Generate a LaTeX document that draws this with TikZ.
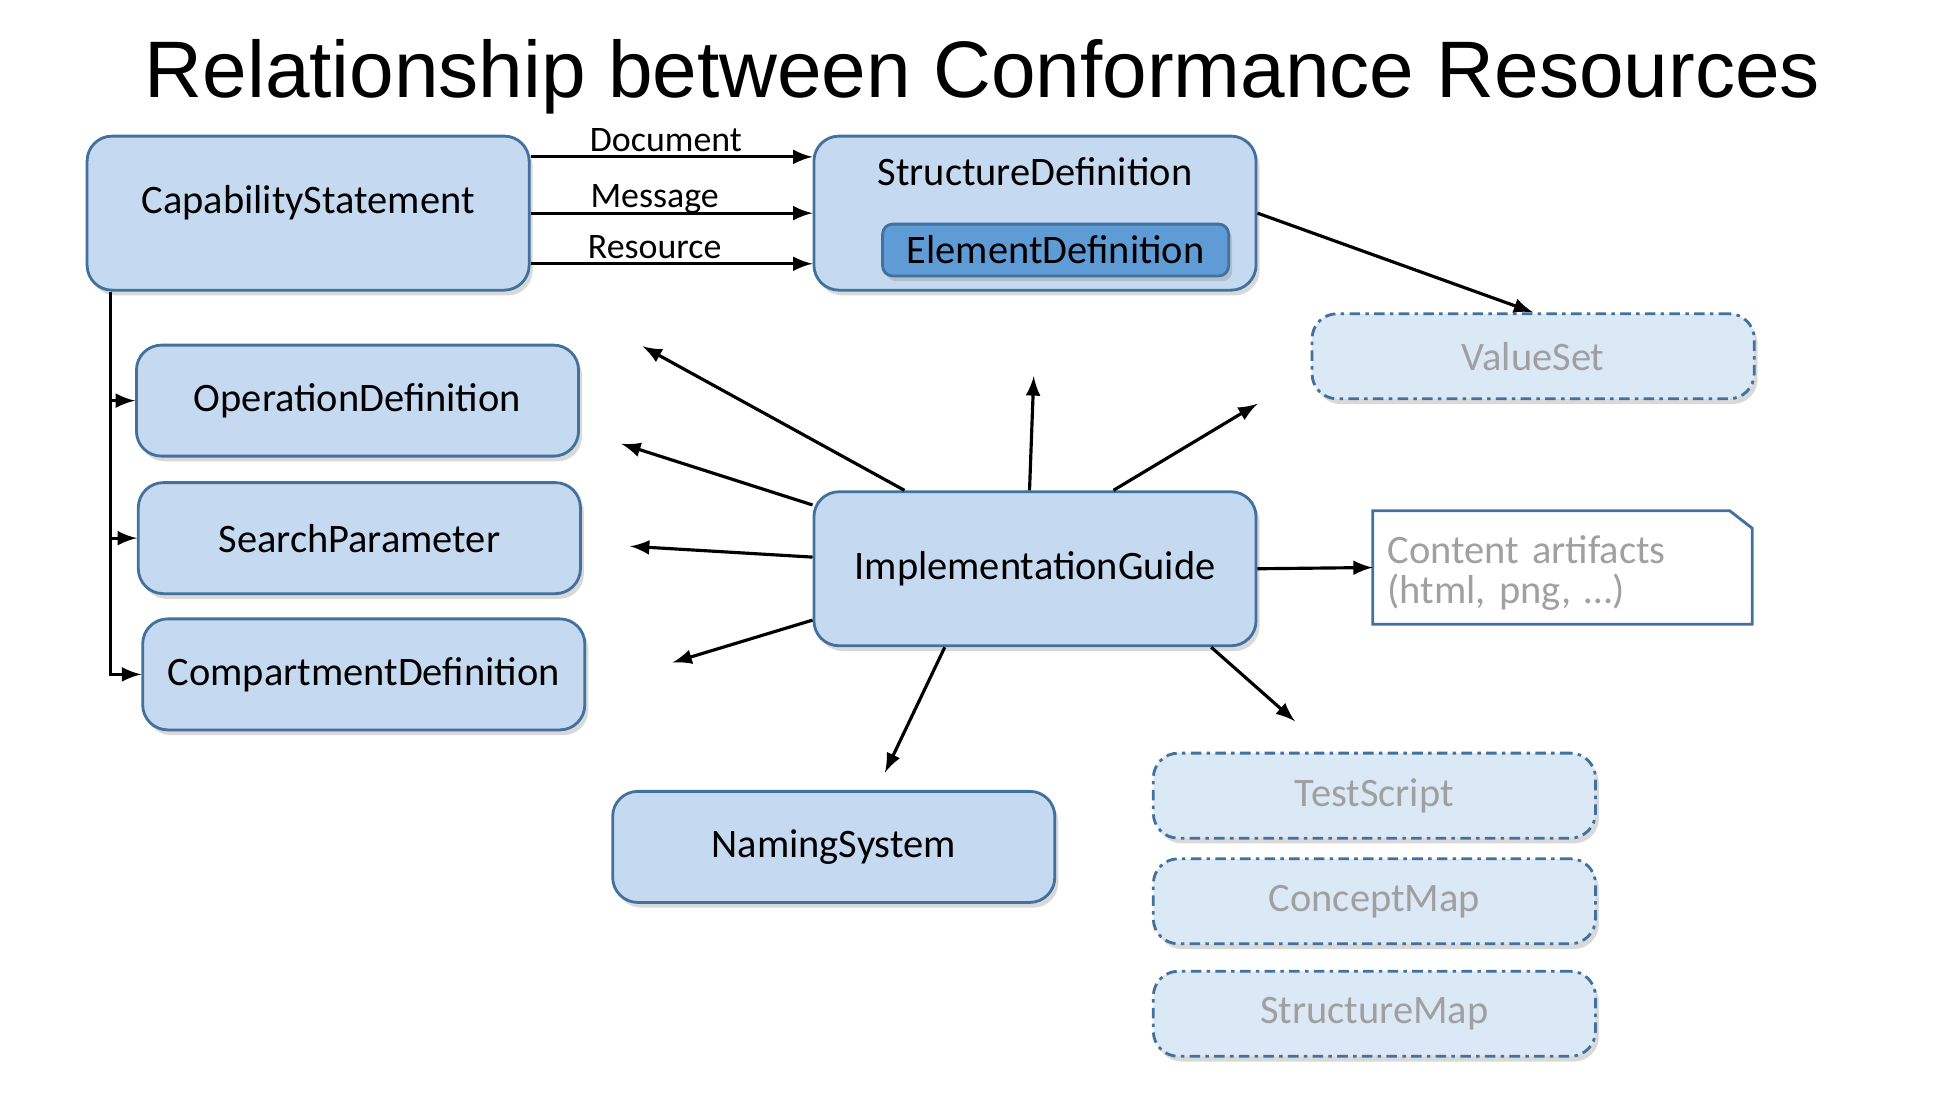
\documentclass[tikz,border=0pt]{standalone}
\usepackage{fontspec}
\setmainfont{Carlito}
\newfontfamily\titlefont{Liberation Sans}
\usetikzlibrary{arrows,shadows,calc}

\definecolor{boxfill}{RGB}{197,217,240}
\definecolor{boxline}{RGB}{65,113,156}
\definecolor{elemfill}{RGB}{95,155,213}
\definecolor{ghostfill}{RGB}{219,232,246}
\definecolor{ghosttext}{RGB}{160,160,160}

\begin{document}
\begin{tikzpicture}[x=0.0125cm,y=-0.0125cm,
        res/.style={draw=boxline,line width=0.8pt,fill=boxfill,rounded corners=0.25cm,minimum width=4.42cm,minimum height=1.11cm,font=\fontsize{11.5}{13}\selectfont,drop shadow={shadow xshift=1pt,shadow yshift=-1.5pt,opacity=0.3}},
        ghost/.style={res,fill=ghostfill,text=ghosttext,dash pattern=on 3pt off 1.5pt on 1pt off 1.5pt,minimum height=0.85cm},
        link/.style={-latex,line width=0.9pt},
        linklabel/.style={anchor=base,yshift=1.5pt,font=\fontsize{10.2}{12}\selectfont}]
        \useasboundingbox (0,0) rectangle (1561.6,873.6);
        \node[font=\titlefont\fontsize{22.8}{28}\selectfont,anchor=base](title)at(786,78){Relationship between Conformance Resources};
        \node[res,minimum height=1.54cm,text depth=8pt](cs)at(246.5,170.5){CapabilityStatement};
        \node[res,minimum height=1.54cm](sd)at(828,170.5){};
        \node[font=\fontsize{11.5}{13}\selectfont](sdname)at(828,137){StructureDefinition};
        \node[res,fill=elemfill,minimum width=3.46cm,minimum height=0.5cm,rounded corners=0.1cm](ed)at(844.5,200){ElementDefinition};
        \node[ghost](vs)at(1226.5,285){ValueSet};
        \node[res](od)at(286,320.5){OperationDefinition};
        \node[res](sp)at(287.5,430.5){SearchParameter};
        \node[res](cd)at(291,539.5){CompartmentDefinition};
        \node[res,minimum height=1.54cm](ig)at(828,455){ImplementationGuide};
        \node[res](ns)at(667,677.5){NamingSystem};
        \node[ghost](ts)at(1099.5,636.5){TestScript};
        \node[ghost](cm)at(1099.5,721){ConceptMap};
        \node[ghost](sm)at(1099.5,811){StructureMap};
        \node[minimum width=3.78cm,minimum height=1.12cm,text width=3.5cm,text depth=10.3pt,align=left,text=ghosttext,font=\fontsize{11.5}{11.5}\selectfont](ca)at(1250,454){Content artifacts\\(html, png, …)};
        \draw[boxline,line width=0.8pt](ca.south west)--(ca.north west)--($(ca.north east)+(-18,0)$)--($(ca.north east)+(0,14)$)--(ca.south east)--cycle;
        \draw[link]([yshift=16pt]cs.east)--node[linklabel,pos=0.48]{Document}([yshift=16pt]sd.west);
        \draw[link](cs.east)--node[linklabel,pos=0.44]{Message}(sd.west);
        \draw[link]([yshift=-14.4pt]cs.east)--node[linklabel,pos=0.44]{Resource}([yshift=-14.4pt]sd.west);
        \draw[link](sd.east)--(vs.north);
        \coordinate(trunk)at($(cs.south west)+(20,0)$);
        \draw[link](trunk)|-(od);
        \draw[link](trunk)|-(sp);
        \draw[link](trunk)|-(cd);
        \coordinate(e1)at(514,277);
        \coordinate(e2)at(497,355);
        \coordinate(e3)at(504,437);
        \coordinate(e4)at(538,530);
        \coordinate(e5)at(827,301);
        \coordinate(e6)at(1006,323);
        \coordinate(e8)at(1036,577);
        \coordinate(e9)at(708,618);
        \draw[link](ig.149)--(e1);
        \draw[link](ig.164.5)--(e2);
        \draw[link](ig.177)--(e3);
        \draw[link](ig.193)--(e4);
        \draw[link](ig.94.5)--(e5);
        \draw[link](ig.45.4)--(e6);
        \draw[link](ig.east)--(ca.west);
        \draw[link](ig.336)--(e8);
        \draw[link](ig.221.2)--(e9);
    \end{tikzpicture}
\end{document}
